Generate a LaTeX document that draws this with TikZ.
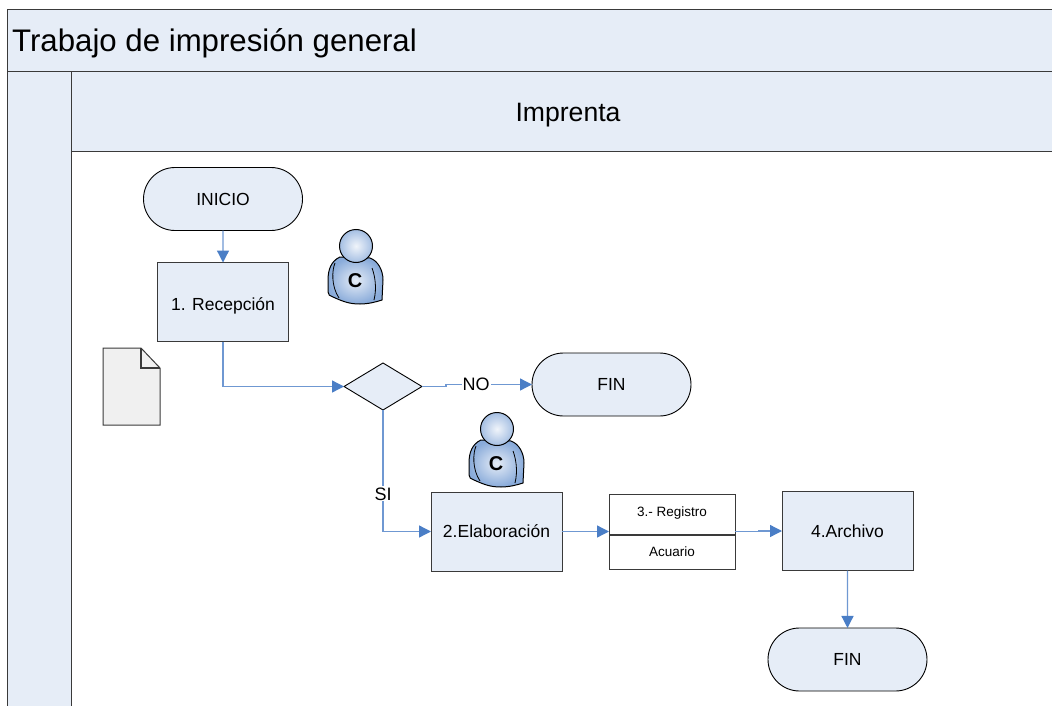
\documentclass[tikz,border=0pt]{standalone}
\usepackage{fontspec}
\setmainfont{Liberation Sans}
\usepackage{xcolor}
\usetikzlibrary{arrows.meta,shapes.misc,shapes.geometric}
\definecolor{bandfill}{HTML}{E6EDF7}
\definecolor{flowline}{HTML}{6F98D2}
\definecolor{flowtip}{HTML}{4A7EC6}
\definecolor{edgegray}{HTML}{3A3A3A}

\begin{document}
\begin{tikzpicture}[x=1pt,y=-1pt,-,
                    band/.style={draw=edgegray,line width=1pt,fill=bandfill},
                    proc node/.style={rectangle,draw=edgegray,line width=1pt,fill=bandfill,font=\fontsize{17.5}{21}\selectfont,
                                      minimum width=131pt,minimum height=79pt,inner sep=0pt,outer sep=0pt},
                    term node/.style={rounded rectangle,draw=black,line width=0.9pt,fill=bandfill,font=\fontsize{17.5}{21}\selectfont,
                                      minimum width=159pt,minimum height=63pt,inner sep=0pt,outer sep=0pt},
                    dec node/.style={diamond,draw=black,line width=0.9pt,fill=bandfill,
                                     minimum width=78pt,minimum height=47pt,inner sep=0pt,outer sep=0pt},
                    reg node/.style={rectangle,draw=edgegray,line width=1pt,fill=white,
                                     minimum width=126pt,minimum height=75pt,inner sep=0pt,outer sep=0pt},
                    small text/.style={font=\fontsize{13.5}{16}\selectfont,inner sep=0pt},
                    lbl/.style={fill=white,font=\fontsize{18}{21}\selectfont,inner sep=1pt},
                    flow/.style={draw=flowline,line width=1.3pt,-{Triangle[length=12pt,width=12pt,color=flowtip]}},
                    persona/.pic={
                      \shade[draw=black,line width=1pt,inner color=bandfill,outer color=flowtip!65!white]
                        (-16,11) .. controls (-25,15) and (-28,24) .. (-28,34) -- (-28,46)
                        .. controls (-28,49) and (-26,50) .. (-23,51)
                        .. controls (-12,56) and (-6,58) .. (4,58)
                        .. controls (12,58) and (20,56) .. (26,54)
                        -- (27,34) .. controls (27,24) and (22,15) .. (14,12) -- cycle;
                      \draw[line width=0.8pt] (-21,17) .. controls (-24,24) and (-25,40) .. (-17,52);
                      \draw[line width=0.8pt] (16,22) .. controls (19,30) and (21,42) .. (18,54);
                      \shade[draw=black,line width=1pt,inner color=bandfill!60!white,outer color=flowtip!50!white]
                        (0,0) circle (16.5);
                      \node[font=\fontsize{20}{24}\selectfont\bfseries,inner sep=0pt] (-letter) at (-1,35) {C};
                    }]

  \useasboundingbox (0,0) rectangle (1052,706);

  % bands
  \draw[band] (1052,10) -- (7.5,10) -- (7.5,72) -- (1052,72);
  \draw[band] (7.5,706) -- (7.5,72) -- (71,72) -- (71,706);
  \draw[band] (1052,72) -- (71,72) -- (71,152) -- (1052,152);
  \node[font=\fontsize{31.2}{36}\selectfont,inner sep=0pt,anchor=west] (title) at (12,43) {Trabajo de impresión general};
  \node[font=\fontsize{26.6}{31}\selectfont,inner sep=0pt] (lane) at (568,115) {Imprenta};

  \node[term node] (inicio) at (223,199) {INICIO};
  \node[proc node] (recepcion) [below of=inicio,node distance=103pt] {\raisebox{-8pt}[0pt][0pt]{1. Recepción}};
  \node[dec node] (decision) at (383,386.5) {};
  \node[term node] (fin1) at (611.5,384.5) {FIN};
  \node[proc node] (elaboracion) at (496.5,531.5) {2.Elaboración};
  \node[reg node] (registro) [right of=elaboracion,node distance=175.5pt] {};
  \node[small text] (registrotxt) at (672,513) {3.- Registro};
  \node[small text] (acuario) at (672,552) {Acuario};
  \node[proc node] (archivo) at (847.5,531) {4.Archivo};
  \node[term node] (fin2) [below of=archivo,node distance=128.5pt] {FIN};

  \draw[line width=1.3pt,edgegray] (registro.west |- 0,535) -- (registro.east |- 0,535);

  % documento
  \draw[draw=edgegray,line width=1pt,fill=black!6] (103,348) -- (141,348) -- (160,368) -- (160,425) -- (103,425) -- cycle;
  \draw[edgegray,line width=1.2pt] (141,348) -- (141,368) -- (160,368);

  \pic (persona1) at (356,246) {persona};
  \pic (persona2) at (497,429) {persona};

  \path[flow]
  (inicio) edge (recepcion)
  (elaboracion) edge (registro)
  (archivo) edge (fin2);

  \draw[flow] (recepcion.south) |- (decision.west);
  \draw[flow] (decision.east) -- ++(24,0) -- ++(0,-2) -- node[lbl,pos=.35] (lblno) {NO} (fin1.west);
  \draw[flow] (decision.south) |- node[lbl,pos=.345] (lblsi) {SI} (elaboracion.west);
  \draw[flow] (registro.east) -- ++(24,0) -- ++(0,-0.5) -- (archivo.west);

\end{tikzpicture}
\end{document}
